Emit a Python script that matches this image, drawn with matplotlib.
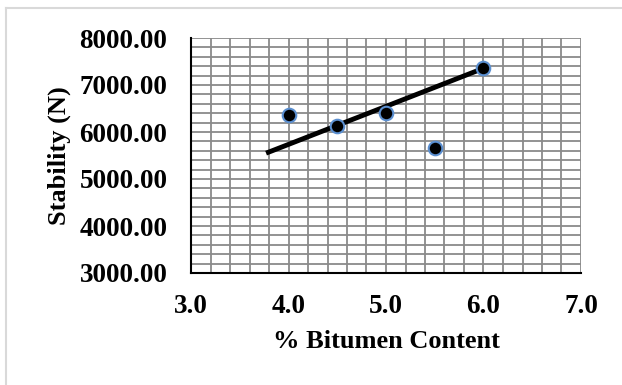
import matplotlib
matplotlib.use("Agg")
import matplotlib.pyplot as plt
from matplotlib.ticker import MultipleLocator, FormatStrFormatter
from matplotlib.lines import Line2D

bitumen = [4.0, 4.5, 5.0, 5.5, 6.0]
stability = [6360, 6130, 6410, 5660, 7355]
trend_x = [3.77, 6.0]
trend_y = [5550, 7355]

plt.rcParams['font.family'] = ['Liberation Serif', 'DejaVu Serif']

fig = plt.figure(figsize=(6.22, 3.85), dpi=100)
ax = fig.add_axes([191/622, 1-273/385, (581-191)/622, (273-38)/385])

ax.set_xlim(3.0, 7.0)
ax.set_ylim(3000, 8000)
ax.xaxis.set_major_locator(MultipleLocator(1.0))
ax.yaxis.set_major_locator(MultipleLocator(1000))
ax.xaxis.set_minor_locator(MultipleLocator(0.2))
ax.yaxis.set_minor_locator(MultipleLocator(200))
ax.xaxis.set_major_formatter(FormatStrFormatter('%.1f'))
ax.yaxis.set_major_formatter(FormatStrFormatter('%.2f'))
ax.grid(True, which='both', color='#8a8a8a', linewidth=1.3)
ax.set_axisbelow(True)
ax.tick_params(which='both', length=0)
ax.tick_params(axis='x', pad=15, labelsize=19.5)
ax.tick_params(axis='y', pad=17, labelsize=19.5)
for lab in ax.get_xticklabels() + ax.get_yticklabels():
    lab.set_fontweight('bold')

for s in ['top', 'right']:
    ax.spines[s].set_visible(False)
for s in ['left', 'bottom']:
    ax.spines[s].set_color('black')
    ax.spines[s].set_linewidth(1.5)

ax.plot(trend_x, trend_y, color='black', linewidth=3.5, solid_capstyle='butt', zorder=3)
ax.scatter(bitumen, stability, s=95, facecolor='black', edgecolor='#5b8fd0', linewidth=1.5, zorder=4)

ax.set_xlabel('% Bitumen Content', fontsize=19, fontweight='bold', labelpad=8)
ax.set_ylabel('Stability (N)', fontsize=19, fontweight='bold', labelpad=6)

fig.add_artist(Line2D([6/622, 6/622], [0, 1-8/385], transform=fig.transFigure, color='#d9d9d9', linewidth=1.5))
fig.add_artist(Line2D([6/622, 1], [1-8/385, 1-8/385], transform=fig.transFigure, color='#d9d9d9', linewidth=1.5))

fig.savefig('out.png', dpi=100)
